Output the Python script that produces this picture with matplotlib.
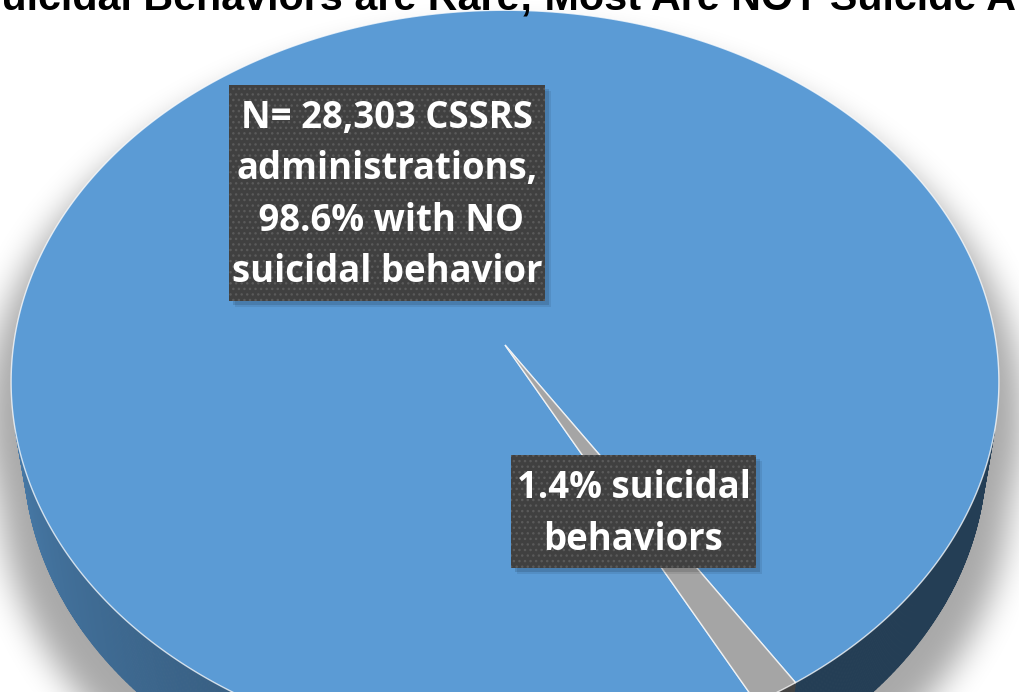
import numpy as np
import matplotlib.pyplot as plt
from matplotlib.patches import Polygon, Rectangle
from matplotlib.collections import PolyCollection
from matplotlib.path import Path
from matplotlib.colors import to_rgb

# data
categories = ['NO suicidal behavior', 'suicidal behaviors']
shares = [98.6, 1.4]
n_admin = 28303
colors = ['#5B9BD5', '#A5A5A5']
title = 'Suicidal Behaviors are Rare; Most Are NOT Suicide Attempts'

W, H = 1019, 692

# perspective pie set-up (pixel space)
cx, cy = 505.0, 345.0
focal = 3271.0
dist = 6.656
tilt = np.radians(48.5)
thick = 0.23
start = -57.2
y_cam = dist * np.cos(tilt)


def project(theta, z):
    u = np.cos(theta)
    v = -np.sin(theta)
    d = dist - v * np.cos(tilt) - z * np.sin(tilt)
    x = cx + focal * u / d
    y = cy + focal * (v * np.sin(tilt) - z * np.cos(tilt)) / d
    return x, y


def side_shade(deg):
    a = -(((deg + 180) % 360) - 180)
    return 0.40 + 0.38 * np.clip((a - 60) / 107, 0, 1)


def box_blur(a, r, axis):
    a = np.moveaxis(a, axis, -1)
    pad = np.pad(a, [(0, 0), (r + 1, r)], mode='edge')
    c = np.cumsum(pad, axis=-1)
    out = (c[:, 2 * r + 1:] - c[:, :-2 * r - 1]) / (2 * r + 1)
    return np.moveaxis(out, -1, axis)


plt.rcParams['hatch.linewidth'] = 1.0
fig = plt.figure(figsize=(W / 100, H / 100), dpi=100)
ax = fig.add_axes([0, 0, 1, 1])
ax.set_xlim(0, W)
ax.set_ylim(H, 0)
ax.axis('off')

bounds = start + 360 * np.concatenate([[0], np.cumsum(shares)]) / np.sum(shares)

# soft shadow under the pie
full = np.radians(np.linspace(0, 360, 721))
tx, ty = project(full, 0)
bx, by = project(full, -thick)
front = np.radians(np.linspace(-170, -10, 200))
fx0, fy0 = project(front, 0)
fx1, fy1 = project(front, -thick)
band = np.column_stack([np.r_[fx0, fx1[::-1]], np.r_[fy0, fy1[::-1]]])
pad = 120
gx, gy = np.meshgrid(np.arange(-pad, W + pad) + 0.5, np.arange(-pad, H + pad) + 0.5)
sx = (gx - cx) / 1.05 + cx
sy = (gy - 400) / 1.03 + 400 - 34
pts = np.column_stack([sx.ravel(), sy.ravel()])
mask = (Path(np.column_stack([tx, ty])).contains_points(pts)
        | Path(np.column_stack([bx, by])).contains_points(pts)
        | Path(band).contains_points(pts)).reshape(gx.shape).astype(float)
for _ in range(3):
    mask = box_blur(mask, 15, 0)
    mask = box_blur(mask, 15, 1)
rgba = np.zeros(mask.shape + (4,))
rgba[..., 3] = 0.34 * mask
ax.imshow(rgba, extent=(-pad, W + pad, H + pad, -pad), origin='upper',
          interpolation='bilinear', zorder=0)

# side walls
quads, qcols = [], []
for i, col in enumerate(colors):
    th = np.linspace(bounds[i], bounds[i + 1], int(abs(bounds[i + 1] - bounds[i]) * 4) + 2)
    rad = np.radians(th)
    x0, y0 = project(rad, 0)
    x1, y1 = project(rad, -thick)
    base = np.array(to_rgb(col))
    for j in range(len(th) - 1):
        mid = np.radians(0.5 * (th[j] + th[j + 1]))
        if -np.sin(mid) <= 1 / y_cam:
            continue
        quads.append([(x0[j], y0[j]), (x0[j + 1], y0[j + 1]),
                      (x1[j + 1], y1[j + 1]), (x1[j], y1[j])])
        qcols.append(base * side_shade(0.5 * (th[j] + th[j + 1])))
ax.add_collection(PolyCollection(quads, facecolors=qcols, edgecolors=qcols,
                                 linewidths=0.6, zorder=1))

# top face
for i, col in enumerate(colors):
    th = np.radians(np.linspace(bounds[i], bounds[i + 1], 720))
    x, y = project(th, 0)
    verts = np.vstack([[cx, cy], np.column_stack([x, y])])
    ax.add_patch(Polygon(verts, closed=True, facecolor=col,
                         edgecolor=(1, 1, 1, 0.75), linewidth=1.0, zorder=2))

# label boxes
labels = [
    ['N= {:,} CSSRS'.format(n_admin), 'administrations,',
     ' {:.1f}% with NO'.format(shares[0]), 'suicidal behavior'],
    ['{:.1f}% suicidal'.format(shares[1]), 'behaviors'],
]
boxes = [(229, 85, 316, 216), (511, 455, 245, 113)]
baselines = [128, 498]
gap = 51.5
for lines, (bx0, by0, bw, bh), base_y in zip(labels, boxes, baselines):
    for off, a in [(6, 0.08), (4, 0.12)]:
        ax.add_patch(Rectangle((bx0 + off, by0 + off), bw, bh, facecolor='black',
                               alpha=a, linewidth=0, zorder=3))
    ax.add_patch(Rectangle((bx0, by0), bw, bh, facecolor='#404040',
                           linewidth=0, zorder=4))
    ax.add_patch(Rectangle((bx0, by0), bw, bh, facecolor='none',
                           edgecolor='#5a5a5a', hatch='...', linewidth=0, zorder=4))
    for k, line in enumerate(lines):
        ax.text(bx0 + bw / 2, base_y + k * gap, line, color='white',
                fontsize=26.3, fontweight='bold', family='Open Sans',
                ha='center', va='baseline', zorder=5)

ax.text(-26, 10, title, fontsize=29.7, fontweight='bold',
        family='Liberation Sans', ha='left', va='baseline', zorder=6)

fig.savefig('out.png', dpi=100)
